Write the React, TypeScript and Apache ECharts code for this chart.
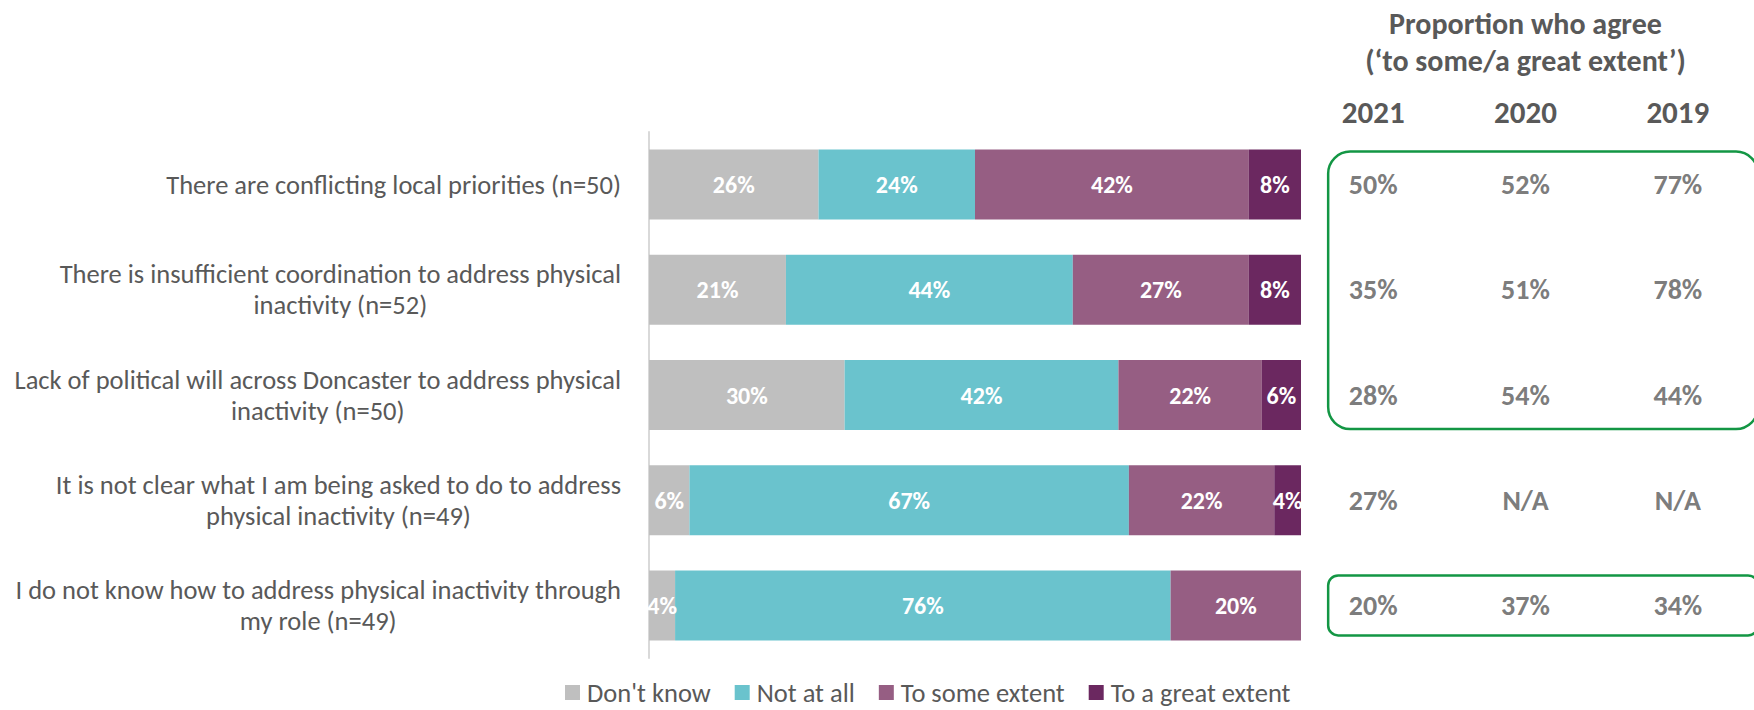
import React, { useEffect, useRef } from "react";
import * as echarts from "echarts";

const categories = [
  "There are conflicting local priorities (n=50)",
  "There is insufficient coordination to address physical\ninactivity (n=52)",
  "Lack of political will across Doncaster to address physical\ninactivity (n=50)",
  "It is not clear what I am being asked to do to address\nphysical inactivity (n=49)",
  "I do not know how to address physical inactivity through\nmy role (n=49)",
];

const seriesNames = ["Don't know", "Not at all", "To some extent", "To a great extent"];
const dontKnow = [26, 21, 30, 6.2, 4];
const notAtAll = [24, 44, 42, 67.4, 76];
const toSomeExtent = [42, 27, 22, 22.3, 20];
const toAGreatExtent = [8, 8, 6, 4.1, 0];

const years = ["2021", "2020", "2019"];
const agree2021 = [50, 35, 28, 27, 20];
const agree2020 = [52, 51, 54, null, 37];
const agree2019 = [77, 78, 44, null, 34];

const tableTitle = ["Proportion who agree", "(\u2018to some/a great extent\u2019)"];

const COLORS = ["#BFBFBF", "#6AC3CD", "#965E83", "#6B2860"];
const TEXT = "#595959";
const GREEN = "#139644";
const FONT = "Carlito, Calibri, Lato, sans-serif";

export default function App() {
  const ref = useRef<HTMLDivElement>(null);

  useEffect(() => {
    if (!ref.current) return;
    const chart = echarts.init(ref.current, null, { renderer: "svg" });
    const barData = [dontKnow, notAtAll, toSomeExtent, toAGreatExtent];
    const agree = [agree2021, agree2020, agree2019];

    const barSeries = barData.map((d, i) => ({
      name: seriesNames[i],
      type: "bar",
      stack: "total",
      xAxisIndex: 0,
      yAxisIndex: 0,
      barWidth: 70,
      itemStyle: { color: COLORS[i] },
      label: {
        show: true,
        position: "inside",
        color: "#fff",
        fontWeight: "bold",
        fontSize: 24,
        fontFamily: FONT,
        formatter: (p: any) => (p.value > 0 ? Math.round(p.value) + "%" : ""),
      },
      data: d,
    }));

    const tableSeries = agree.map((arr, yi) => ({
      type: "scatter",
      xAxisIndex: 1,
      yAxisIndex: 1,
      symbolSize: 1,
      itemStyle: { color: "rgba(0,0,0,0)" },
      label: {
        show: true,
        position: "inside",
        color: TEXT,
        fontWeight: "bold",
        fontSize: 28,
        fontFamily: FONT,
        formatter: (p: any) => {
          const v = arr[p.dataIndex];
          return v == null ? "N/A" : v + "%";
        },
      },
      data: arr.map((_, ri) => [yi, ri]),
    }));

    chart.setOption({
      animation: false,
      backgroundColor: "#fff",
      legend: {
        data: seriesNames,
        left: 565,
        top: 679,
        padding: 0,
        icon: "rect",
        itemWidth: 15,
        itemHeight: 15,
        itemGap: 24,
        textStyle: { color: TEXT, fontSize: 26.5, fontFamily: FONT, padding: [0, 0, 0, 2] },
      },
      grid: [
        { left: 649, right: 453, top: 132, bottom: 52 },
        { left: 1297, right: -43, top: 132, bottom: 52 },
      ],
      xAxis: [
        { type: "value", gridIndex: 0, min: 0, max: 100, show: false },
        {
          type: "category",
          gridIndex: 1,
          data: years,
          position: "top",
          axisLine: { show: false },
          axisTick: { show: false },
          splitLine: { show: false },
          axisLabel: {
            margin: 5,
            color: TEXT,
            fontWeight: "bold",
            fontSize: 31,
            fontFamily: FONT,
          },
        },
      ],
      yAxis: [
        {
          type: "category",
          gridIndex: 0,
          data: categories,
          inverse: true,
          axisLine: { show: true, lineStyle: { color: "#D9D9D9", width: 2 } },
          axisTick: { show: false },
          axisLabel: {
            margin: 28,
            align: "right",
            formatter: (v: string) =>
              v
                .split("\n")
                .map((l) => "{c|" + l + "}")
                .join("\n"),
            rich: {
              c: {
                align: "center",
                color: TEXT,
                fontSize: 26.5,
                lineHeight: 31,
                fontFamily: FONT,
              },
            },
          },
        },
        {
          type: "category",
          gridIndex: 1,
          data: categories,
          inverse: true,
          show: false,
        },
      ],
      series: [...barSeries, ...tableSeries],
    });

    const colX = chart.convertToPixel({ xAxisIndex: 1 }, 0) as number;
    const colX2 = chart.convertToPixel({ xAxisIndex: 1 }, 2) as number;
    const rowY = (i: number) => chart.convertToPixel({ yAxisIndex: 1 }, i) as number;
    const boxLeft = colX - 45;
    const boxRight = 1758;
    const titleX = (colX + colX2) / 2;

    chart.setOption({
      graphic: [
        {
          type: "text",
          x: titleX,
          y: 23,
          style: {
            text: tableTitle[0],
            align: "center",
            verticalAlign: "middle",
            fill: TEXT,
            font: `bold 30px ${FONT}`,
          },
        },
        {
          type: "text",
          x: titleX,
          y: 60,
          style: {
            text: tableTitle[1],
            align: "center",
            verticalAlign: "middle",
            fill: TEXT,
            font: `bold 30px ${FONT}`,
          },
        },
        {
          type: "rect",
          shape: {
            x: boxLeft,
            y: rowY(0) - 33,
            width: boxRight - boxLeft,
            height: rowY(2) - rowY(0) + 67,
            r: 22,
          },
          style: { fill: "none", stroke: GREEN, lineWidth: 2.5 },
        },
        {
          type: "rect",
          shape: {
            x: boxLeft,
            y: rowY(4) - 30,
            width: boxRight - boxLeft,
            height: 60,
            r: 10,
          },
          style: { fill: "none", stroke: GREEN, lineWidth: 2.5 },
        },
      ],
    });

    return () => chart.dispose();
  }, []);

  return (
    <div
      ref={ref}
      style={{ position: "absolute", left: 0, top: 0, width: 1754, height: 710 }}
    />
  );
}
